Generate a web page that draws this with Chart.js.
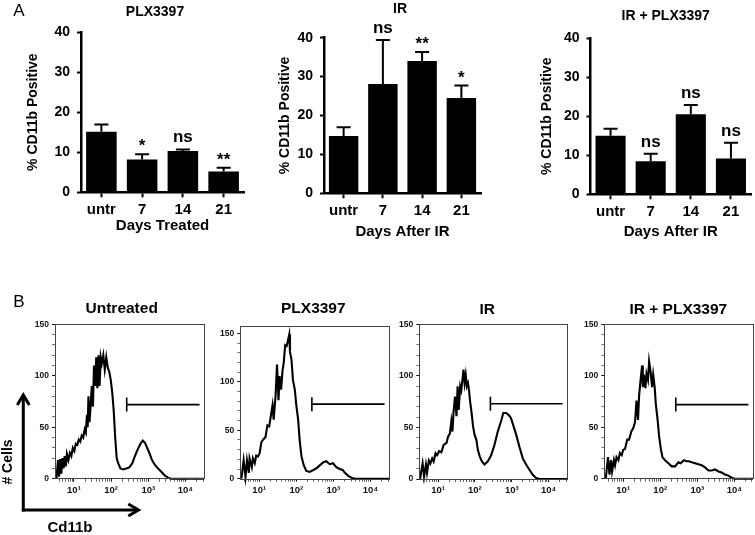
<!DOCTYPE html>
<html>
<head>
<meta charset="utf-8">
<script src="https://cdn.jsdelivr.net/npm/chart.js@4.4.0/dist/chart.umd.min.js"></script>
<style>
html, body { margin: 0; padding: 0; background: #fff; }
#wrap { position: relative; width: 755px; height: 535px; }
#wrap canvas { position: absolute; left: 0; top: 0; }
</style>
</head>
<body>
<div id="wrap">
<canvas id="a1" width="755" height="535"></canvas>
<canvas id="a2" width="755" height="535"></canvas>
<canvas id="a3" width="755" height="535"></canvas>
<canvas id="b1" width="755" height="535"></canvas>
<canvas id="b2" width="755" height="535"></canvas>
<canvas id="b3" width="755" height="535"></canvas>
<canvas id="b4" width="755" height="535"></canvas>
</div>
<script>
const FONT = "'Liberation Sans', Arial, sans-serif";

// panel A: % CD11b positive (mean, SEM) per day
const dayLabels = ["untr", "7", "14", "21"];
const plxMean = [15.1, 8.2, 10.3, 5.2];
const plxSem = [1.8, 1.3, 0.4, 0.9];
const plxSig = ["", "*", "ns", "**"];
const irMean = [14.7, 28.1, 34.0, 24.5];
const irSem = [2.3, 11.3, 2.3, 3.2];
const irSig = ["", "ns", "**", "*"];
const comboMean = [15.0, 8.5, 20.5, 9.2];
const comboSem = [1.8, 1.9, 2.4, 4.0];
const comboSig = ["", "ns", "ns", "ns"];

// panel B: histograms, x = log10(Cd11b), y = # cells
const untrLog = [0.53,0.57,0.60,0.63,0.66,0.69,0.72,0.75,0.78,0.81,0.85,0.89,0.93,0.97,1.01,1.05,1.09,1.13,1.17,1.21,1.25,1.29,1.32,1.35,1.37,1.39,1.42,1.45,1.48,1.51,1.54,1.57,1.60,1.63,1.66,1.69,1.72,1.75,1.79,1.83,1.87,1.91,1.95,1.99,2.03,2.07,2.11,2.15,2.19,2.25,2.33,2.41,2.49,2.57,2.64,2.71,2.79,2.85,2.91,2.97,3.03,3.09,3.15,3.21,3.29,3.37,3.45,3.53,3.61,4.50];
const untrCount = [0,18,2,19,5,20,10,22,12,24,18,25,22,30,27,34,33,38,36,42,40,48,45,62,50,80,55,72,90,70,110,90,118,88,120,90,118,112,120,106,118,108,104,96,84,66,40,20,15,10,9,10,11,15,22,28,34,37,35,30,25,19,15,12,9,6,3,1,0,0];

const plxLog = [0.52,0.58,0.63,0.67,0.72,0.74,0.80,0.83,0.88,0.92,0.97,1.01,1.06,1.10,1.17,1.22,1.27,1.31,1.36,1.39,1.44,1.48,1.52,1.55,1.59,1.63,1.66,1.70,1.74,1.77,1.81,1.83,1.87,1.91,1.96,2.00,2.05,2.09,2.14,2.20,2.27,2.36,2.46,2.55,2.64,2.73,2.81,2.90,2.99,3.08,3.17,3.25,3.31,3.40,3.49,3.58,4.50];
const plxCount = [0,19,2,19,6,21,12,21,16,24,23,26,38,40,43,55,54,64,76,61,85,118,81,106,92,112,119,138,137,142,149,131,123,102,92,76,61,40,23,14,8,7,9,11,14,17,18,15,16,12,10,9,6,3,1,0,0];

const irLog = [0.51,0.58,0.62,0.67,0.70,0.75,0.79,0.84,0.88,0.93,0.97,1.03,1.09,1.15,1.23,1.27,1.32,1.36,1.39,1.42,1.46,1.50,1.53,1.56,1.60,1.63,1.66,1.69,1.72,1.75,1.78,1.81,1.84,1.87,1.91,1.95,1.99,2.04,2.08,2.13,2.19,2.26,2.35,2.44,2.53,2.62,2.71,2.77,2.85,2.92,2.98,3.05,3.12,3.21,3.30,3.39,3.48,3.57,3.66,3.75,4.50];
const irCount = [0,15,2,14,6,18,15,20,17,25,23,27,26,33,35,41,44,56,46,65,80,61,90,67,90,86,96,106,93,101,90,93,86,75,64,51,43,38,28,22,17,14,17,23,33,46,56,64,64,62,59,51,43,31,20,14,9,4,1,0,0];

const comboLog = [0.53,0.59,0.63,0.67,0.70,0.75,0.78,0.82,0.87,0.91,0.96,1.00,1.05,1.11,1.16,1.22,1.27,1.32,1.36,1.40,1.43,1.47,1.51,1.53,1.56,1.60,1.63,1.67,1.70,1.74,1.78,1.81,1.85,1.88,1.93,1.97,2.02,2.06,2.13,2.22,2.31,2.40,2.49,2.55,2.64,2.71,2.77,2.85,2.94,3.03,3.12,3.21,3.30,3.39,3.48,3.57,3.66,3.75,3.84,3.93,4.02,4.50];
const comboCount = [0,21,4,18,7,18,13,21,18,25,23,28,29,38,38,46,49,55,76,57,81,96,110,89,101,88,102,96,114,104,89,101,89,73,57,41,28,21,18,15,12,12,16,15,18,17,17,16,15,14,13,11,8,8,9,7,6,4,3,1,0,0];

// gate (positive region) per histogram
const gateLog = [2.42, 4.38];
const gateCount = [72, 77, 73, 72];
const decadeLabels = { 1: "10\u00B9", 2: "10\u00B2", 3: "10\u00B3", 4: "10\u2074" };

function bold(size) {
    return { family: FONT, size: size, weight: "bold" };
}

function barDeco(p) {
    return {
        id: "barDeco",
        afterDatasetsDraw(chart) {
            const ctx = chart.ctx;
            const x = chart.scales.x;
            const y = chart.scales.y;
            ctx.save();
            ctx.strokeStyle = "#000";
            ctx.fillStyle = "#000";
            ctx.lineWidth = 2;
            p.mean.forEach((m, i) => {
                const cx = x.getPixelForValue(i);
                const yBar = y.getPixelForValue(m);
                const yTop = y.getPixelForValue(m + p.sem[i]);
                ctx.beginPath();
                ctx.moveTo(cx, yBar);
                ctx.lineTo(cx, yTop);
                ctx.moveTo(cx - 7, yTop);
                ctx.lineTo(cx + 7, yTop);
                ctx.stroke();
                const s = p.sig[i];
                if (s) {
                    ctx.font = "bold 17px " + FONT;
                    ctx.textAlign = "center";
                    ctx.textBaseline = "alphabetic";
                    ctx.fillText(s, cx, yTop - (s[0] == "*" ? 3 : 7));
                }
            });
            ctx.font = "bold 14px " + FONT;
            ctx.textAlign = "center";
            ctx.textBaseline = "middle";
            ctx.fillText(p.title, p.titleX, p.titleY);
            if (p.letter) {
                ctx.font = "17px " + FONT;
                ctx.fillText(p.letter, 19, 11);
            }
            ctx.restore();
        }
    };
}

function barChart(id, p) {
    new Chart(document.getElementById(id), {
        type: "bar",
        data: {
            labels: dayLabels,
            datasets: [{
                data: p.mean,
                backgroundColor: "#000",
                borderWidth: 0,
                barPercentage: 0.75,
                categoryPercentage: 1
            }]
        },
        options: {
            responsive: false,
            animation: false,
            layout: { padding: { left: p.left, right: 755 - p.right, top: p.top, bottom: 535 - p.xBottom } },
            plugins: { legend: { display: false }, tooltip: { enabled: false } },
            scales: {
                x: {
                    grid: { offset: false, drawOnChartArea: false, tickLength: 5, tickWidth: 2, color: "#000" },
                    border: { color: "#000", width: 2.5 },
                    ticks: { color: "#000", font: bold(15), padding: 4, maxRotation: 0 },
                    title: { display: true, text: p.xTitle, color: "#000", font: bold(15), padding: 0 },
                    afterFit: s => { s.height = p.xBottom - p.bottom; }
                },
                y: {
                    min: 0,
                    max: 40,
                    ticks: { stepSize: 10, color: "#000", font: bold(14), padding: 7 },
                    grid: { drawOnChartArea: false, tickLength: 4, tickWidth: 2, color: "#000" },
                    border: { color: "#000", width: 2.5 },
                    title: { display: true, text: "% CD11b Positive", color: "#000", font: bold(14), padding: 0 },
                    afterFit: s => { s.width = p.plotLeft - p.left; }
                }
            }
        },
        plugins: [barDeco(p)]
    });
}

function logTicks(min, max) {
    const t = [];
    for (let n = 0; n <= 4; n++) {
        for (let k = 1; k <= 9; k++) {
            const v = n + Math.log10(k);
            if (v >= min && v <= max) t.push({ value: v });
        }
    }
    return t;
}

function arrow(ctx, pts) {
    ctx.beginPath();
    ctx.moveTo(pts[0][0], pts[0][1]);
    for (let i = 1; i < pts.length; i++) ctx.lineTo(pts[i][0], pts[i][1]);
    ctx.stroke();
}

function histDeco(p) {
    return {
        id: "histDeco",
        afterDraw(chart) {
            const ctx = chart.ctx;
            const a = chart.chartArea;
            const x = chart.scales.x;
            const y = chart.scales.y;
            ctx.save();
            ctx.strokeStyle = "#444";
            ctx.lineWidth = 1;
            ctx.strokeRect(Math.round(a.left) + 0.5, Math.round(a.top) + 0.5, Math.round(a.right - a.left), Math.round(a.bottom - a.top));
            // gate
            const gx1 = x.getPixelForValue(gateLog[0]);
            const gx2 = x.getPixelForValue(gateLog[1]);
            const gy = y.getPixelForValue(p.gate);
            ctx.strokeStyle = "#000";
            ctx.lineWidth = 1.6;
            ctx.beginPath();
            ctx.moveTo(gx1, gy);
            ctx.lineTo(gx2, gy);
            ctx.moveTo(gx1, gy - 7);
            ctx.lineTo(gx1, gy + 7);
            ctx.stroke();
            ctx.fillStyle = "#000";
            ctx.font = "bold 15.5px " + FONT;
            ctx.textAlign = "center";
            ctx.textBaseline = "middle";
            ctx.fillText(p.title, p.titleX, p.titleY);
            if (p.axes) {
                ctx.font = "17px " + FONT;
                ctx.fillText("B", 19, 302);
                ctx.lineWidth = 3;
                arrow(ctx, [[23.3, 511.5], [23.3, 395]]);
                arrow(ctx, [[21.8, 510], [138, 510]]);
                arrow(ctx, [[17.3, 405], [23.3, 395], [29.3, 405]]);
                arrow(ctx, [[128.3, 504], [138.5, 510], [128.3, 516]]);
                ctx.font = "bold 15px " + FONT;
                ctx.fillText("Cd11b", 70, 528);
                ctx.save();
                ctx.translate(8.5, 462);
                ctx.rotate(-Math.PI / 2);
                ctx.font = "bold 14px " + FONT;
                ctx.fillText("# Cells", 0, 0);
                ctx.restore();
            }
            ctx.restore();
        }
    };
}

function histChart(id, p) {
    const pts = p.logs.map((v, i) => ({ x: v, y: p.counts[i] }));
    new Chart(document.getElementById(id), {
        type: "line",
        data: {
            datasets: [{
                data: pts,
                borderColor: "#000",
                borderWidth: 2.1,
                pointRadius: 0,
                fill: false,
                tension: 0,
                clip: false
            }]
        },
        options: {
            responsive: false,
            animation: false,
            layout: { padding: { left: p.left - 30, right: 755 - p.right, top: p.top, bottom: 535 - p.bottom - 25 } },
            plugins: { legend: { display: false }, tooltip: { enabled: false } },
            scales: {
                x: {
                    type: "linear",
                    min: 0.49,
                    max: 4.5,
                    afterBuildTicks: s => { s.ticks = logTicks(0.49, 4.5); },
                    ticks: {
                        autoSkip: false,
                        maxRotation: 0,
                        color: "#111",
                        font: bold(9.5),
                        padding: 3,
                        callback: v => decadeLabels[v] || ""
                    },
                    grid: {
                        drawOnChartArea: false,
                        tickLength: 3,
                        color: ctx => (ctx.tick && decadeLabels[ctx.tick.value]) ? "#111" : "#666"
                    },
                    border: { display: false },
                    afterFit: s => { s.height = 25; }
                },
                y: {
                    min: 0,
                    max: p.ymax,
                    ticks: {
                        stepSize: 10,
                        includeBounds: false,
                        autoSkip: false,
                        color: "#111",
                        font: bold(8.5),
                        padding: 3,
                        callback: v => (v % 50 == 0 ? v : "")
                    },
                    grid: {
                        drawOnChartArea: false,
                        tickLength: 3,
                        color: ctx => (ctx.tick && ctx.tick.value % 50 == 0) ? "#111" : "#777"
                    },
                    border: { display: false },
                    afterFit: s => { s.width = 30; }
                }
            }
        },
        plugins: [histDeco(p)]
    });
}

barChart("a1", { mean: plxMean, sem: plxSem, sig: plxSig, title: "PLX3397", titleX: 155, titleY: 12, letter: "A",
    xTitle: "Days Treated", plotLeft: 81, right: 244, top: 32, bottom: 192.3, left: 24.6, xBottom: 235 });
barChart("a2", { mean: irMean, sem: irSem, sig: irSig, title: "IR", titleX: 400, titleY: 9,
    xTitle: "Days After IR", plotLeft: 324, right: 481, top: 37.7, bottom: 193.3, left: 276.6, xBottom: 241 });
barChart("a3", { mean: comboMean, sem: comboSem, sig: comboSig, title: "IR + PLX3397", titleX: 665.7, titleY: 15.7,
    xTitle: "Days After IR", plotLeft: 590.5, right: 751, top: 38.3, bottom: 194.3, left: 538.3, xBottom: 240.7 });

histChart("b1", { logs: untrLog, counts: untrCount, gate: gateCount[0], title: "Untreated", titleX: 121.7, titleY: 309, axes: true,
    left: 55, right: 204, top: 324.3, bottom: 478.7, ymax: 150 });
histChart("b2", { logs: plxLog, counts: plxCount, gate: gateCount[1], title: "PLX3397", titleX: 313.3, titleY: 309,
    left: 240.3, right: 389, top: 325.7, bottom: 478.7, ymax: 158 });
histChart("b3", { logs: irLog, counts: irCount, gate: gateCount[2], title: "IR", titleX: 487.3, titleY: 309.3,
    left: 419.3, right: 567, top: 324.3, bottom: 479, ymax: 150 });
histChart("b4", { logs: comboLog, counts: comboCount, gate: gateCount[3], title: "IR + PLX3397", titleX: 678.3, titleY: 309.3,
    left: 604.3, right: 753, top: 324.3, bottom: 478.7, ymax: 150 });
</script>
</body>
</html>
